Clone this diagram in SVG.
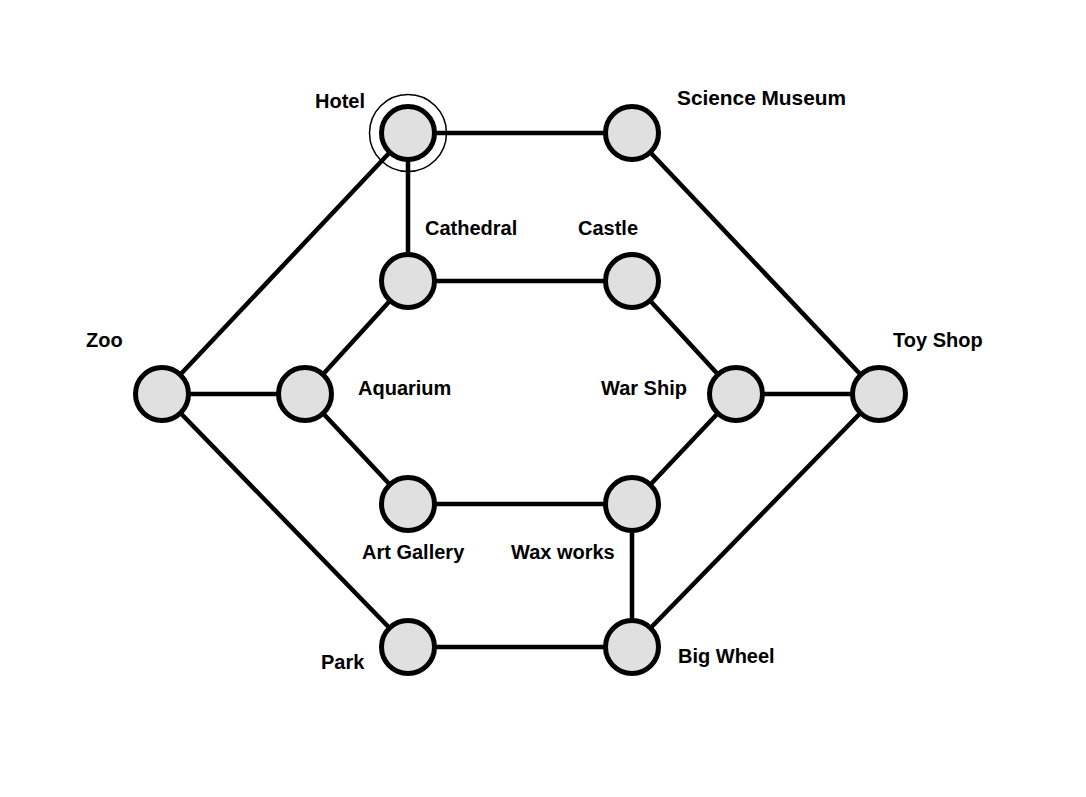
<svg xmlns="http://www.w3.org/2000/svg" width="1086" height="797" viewBox="0 0 1086 797">
<style>
.n{fill:#e0e0e0;stroke:#000;stroke-width:5}
.e line{stroke:#000;stroke-width:4.5}
.ring{fill:none;stroke:#000;stroke-width:1.5}
text{font-family:"Liberation Sans",Arial,sans-serif;font-weight:bold;font-size:20px;fill:#000}
</style>
<rect width="1086" height="797" fill="#fff"/>
<g id="connectors" class="e">
<line x1="408" y1="133" x2="632" y2="133"/>
<line x1="408" y1="133" x2="162" y2="394"/>
<line x1="408" y1="133" x2="408" y2="281"/>
<line x1="632" y1="133" x2="879" y2="394"/>
<line x1="408" y1="281" x2="632" y2="281"/>
<line x1="408" y1="281" x2="305" y2="394"/>
<line x1="632" y1="281" x2="736" y2="394"/>
<line x1="162" y1="394" x2="305" y2="394"/>
<line x1="162" y1="394" x2="408" y2="647"/>
<line x1="305" y1="394" x2="408" y2="504"/>
<line x1="736" y1="394" x2="879" y2="394"/>
<line x1="736" y1="394" x2="632" y2="504"/>
<line x1="408" y1="504" x2="632" y2="504"/>
<line x1="632" y1="504" x2="632" y2="647"/>
<line x1="879" y1="394" x2="632" y2="647"/>
<line x1="408" y1="647" x2="632" y2="647"/>
</g>
<g id="hotel"><circle class="ring" cx="408" cy="133" r="38.5"/><circle class="n" cx="408" cy="133" r="26.5"/><text x="315" y="107.5">Hotel</text></g>
<g id="science-museum"><circle class="n" cx="632" cy="133" r="26.5"/><text x="677" y="104.5" textLength="169" lengthAdjust="spacingAndGlyphs">Science Museum</text></g>
<g id="cathedral"><circle class="n" cx="408" cy="281" r="26.5"/><text x="425" y="234.5">Cathedral</text></g>
<g id="castle"><circle class="n" cx="632" cy="281" r="26.5"/><text x="578" y="234.5">Castle</text></g>
<g id="zoo"><circle class="n" cx="162" cy="394" r="26.5"/><text x="86" y="347">Zoo</text></g>
<g id="aquarium"><circle class="n" cx="305" cy="394" r="26.5"/><text x="358" y="395">Aquarium</text></g>
<g id="war-ship"><circle class="n" cx="736" cy="394" r="26.5"/><text x="601" y="395">War Ship</text></g>
<g id="toy-shop"><circle class="n" cx="879" cy="394" r="26.5"/><text x="893" y="347">Toy Shop</text></g>
<g id="art-gallery"><circle class="n" cx="408" cy="504" r="26.5"/><text x="362" y="558.5">Art Gallery</text></g>
<g id="wax-works"><circle class="n" cx="632" cy="504" r="26.5"/><text x="511" y="558.5">Wax works</text></g>
<g id="park"><circle class="n" cx="408" cy="647" r="26.5"/><text x="321" y="669">Park</text></g>
<g id="big-wheel"><circle class="n" cx="632" cy="647" r="26.5"/><text x="678" y="663">Big Wheel</text></g>
</svg>
